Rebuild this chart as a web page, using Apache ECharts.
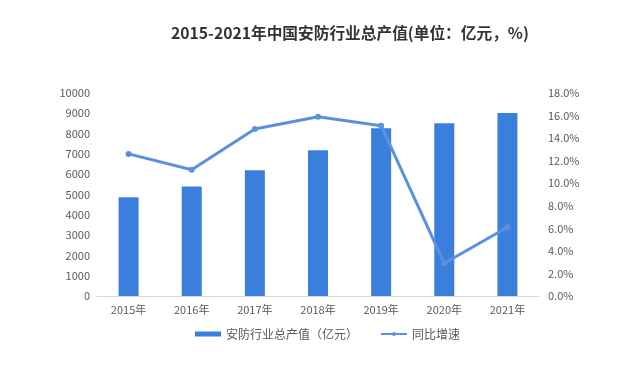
<!DOCTYPE html>
<html><head><meta charset="utf-8">
<script src="https://cdn.jsdelivr.net/npm/echarts@6/dist/echarts.min.js"></script>
<style>html,body{margin:0;padding:0;background:#fff}#c{width:628px;height:371px}</style>
</head><body><div id="c"></div>
<script>
const categories = ['2015年','2016年','2017年','2018年','2019年','2020年','2021年'];
const outputValues = [4860, 5400, 6200, 7180, 8260, 8510, 9020];
const growthRates = [12.6, 11.2, 14.8, 15.9, 15.1, 2.9, 6.1];
const barName = '安防行业总产值（亿元）';
const lineName = '同比增速';
const titleText = '2015-2021年中国安防行业总产值(单位：亿元，%)';

const chart = echarts.init(document.getElementById('c'), null, {renderer:'canvas'});
chart.setOption({
  animation:false,
  backgroundColor:'#fff',
  title:{text:titleText,left:345,textAlign:'center',top:20,
    textStyle:{fontSize:15.7,fontWeight:'bold',color:'#333',fontFamily:'Noto Sans CJK SC'}},
  legend:{bottom:26,left:190,itemGap:22,itemWidth:26,itemHeight:5,
    textStyle:{fontSize:12,color:'#595959',fontFamily:'Noto Sans CJK SC'},
    data:[{name:barName,icon:'rect'},{name:lineName}]},
  grid:{left:97,right:89,top:93,bottom:75},
  xAxis:{type:'category',data:categories,
    axisLine:{lineStyle:{color:'#d9d9d9'}},axisTick:{show:false},
    axisLabel:{color:'#595959',fontSize:11,margin:8,fontFamily:'Noto Sans CJK SC'}},
  yAxis:[
    {type:'value',min:0,max:10000,interval:1000,splitLine:{show:false},
     axisLine:{show:false},axisTick:{show:false},
     axisLabel:{color:'#595959',fontSize:11,margin:7,fontFamily:'Noto Sans CJK SC',
       formatter:v=>String(v)}},
    {type:'value',min:0,max:18,interval:2,splitLine:{show:false},
     axisLine:{show:false},axisTick:{show:false},
     axisLabel:{color:'#595959',fontSize:11,margin:9,fontFamily:'Noto Sans CJK SC',
       formatter:v=>v.toFixed(1)+'%'}}
  ],
  series:[
    {name:barName,type:'bar',data:outputValues,barWidth:20,itemStyle:{color:'#3b7fdd'}},
    {name:lineName,type:'line',yAxisIndex:1,data:growthRates,symbol:'circle',symbolSize:6,
     lineStyle:{width:3,color:'#5b90e0'},itemStyle:{color:'#5b90e0'}}
  ]
});
</script></body></html>
